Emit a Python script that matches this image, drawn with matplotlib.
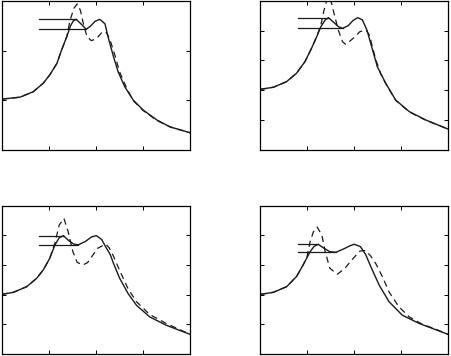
import matplotlib
matplotlib.use("Agg")
import matplotlib.pyplot as plt

# ---------------- data ----------------
# Panel 1 (top-left)
p1_sx = [0.00, 0.39, 0.67, 0.88, 1.02, 1.17, 1.27, 1.38, 1.46, 1.52, 1.58, 1.69, 1.79, 1.88, 1.98, 2.08, 2.19, 2.26, 2.37, 2.47, 2.61, 2.79, 3.00, 3.29, 3.57, 4.00]
p1_sy = [1.02, 1.06, 1.17, 1.34, 1.51, 1.74, 2.01, 2.28, 2.50, 2.60, 2.63, 2.53, 2.43, 2.49, 2.59, 2.63, 2.54, 2.26, 1.88, 1.57, 1.27, 1.00, 0.80, 0.60, 0.46, 0.34]
p1_dx = [0.00, 0.39, 0.67, 0.88, 1.02, 1.17, 1.27, 1.38, 1.45, 1.53, 1.60, 1.67, 1.74, 1.81, 1.90, 2.01, 2.12, 2.21, 2.29, 2.40, 2.50, 2.65, 2.79, 3.00, 3.29, 3.57, 4.00]
p1_dy = [1.02, 1.06, 1.17, 1.34, 1.51, 1.74, 2.01, 2.28, 2.61, 2.85, 2.94, 2.81, 2.51, 2.28, 2.20, 2.24, 2.36, 2.38, 2.24, 1.91, 1.57, 1.24, 0.99, 0.79, 0.59, 0.46, 0.34]
p1_hx = [0.80, 1.58, 1.79]
p1_hy = [2.63, 2.43]

# Panel 2 (top-right)
p2_sx = [0.00, 0.28, 0.56, 0.77, 0.95, 1.09, 1.20, 1.29, 1.38, 1.45, 1.55, 1.66, 1.75, 1.87, 1.97, 2.07, 2.17, 2.27, 2.37, 2.49, 2.67, 2.88, 3.17, 3.52, 4.00]
p2_sy = [2.03, 2.10, 2.29, 2.57, 2.96, 3.41, 3.80, 4.14, 4.36, 4.44, 4.30, 4.14, 4.08, 4.17, 4.34, 4.44, 4.37, 4.02, 3.46, 2.79, 2.23, 1.67, 1.28, 1.00, 0.69]
p2_dx = [0.00, 0.28, 0.56, 0.77, 0.95, 1.09, 1.20, 1.29, 1.35, 1.41, 1.48, 1.55, 1.66, 1.75, 1.82, 1.98, 2.12, 2.25, 2.32, 2.45, 2.56, 2.67, 2.88, 3.17, 3.52, 4.00]
p2_dy = [2.03, 2.10, 2.29, 2.57, 2.96, 3.41, 3.80, 4.20, 4.65, 5.00, 5.15, 4.70, 4.02, 3.63, 3.54, 3.75, 3.97, 4.02, 3.86, 3.07, 2.55, 2.22, 1.66, 1.27, 0.99, 0.69]
p2_hx = [0.80, 1.45, 1.75]
p2_hy = [4.44, 4.08]

# Panel 3 (bottom-left)
p3_sx = [0.00, 0.25, 0.53, 0.74, 0.88, 1.02, 1.13, 1.22, 1.31, 1.41, 1.52, 1.62, 1.77, 1.91, 2.01, 2.12, 2.22, 2.30, 2.37, 2.50, 2.68, 2.86, 3.14, 3.49, 4.00]
p3_sy = [2.01, 2.08, 2.27, 2.55, 2.83, 3.23, 3.68, 3.92, 3.99, 3.84, 3.71, 3.68, 3.79, 3.95, 3.99, 3.86, 3.57, 3.36, 3.06, 2.56, 2.04, 1.64, 1.25, 0.97, 0.66]
p3_dx = [0.00, 0.25, 0.53, 0.74, 0.88, 1.02, 1.13, 1.22, 1.32, 1.41, 1.51, 1.60, 1.72, 1.82, 1.91, 2.03, 2.15, 2.21, 2.28, 2.37, 2.50, 2.68, 2.86, 3.14, 3.49, 4.00]
p3_dy = [2.01, 2.08, 2.27, 2.55, 2.83, 3.23, 3.75, 4.35, 4.57, 4.12, 3.45, 3.09, 3.00, 3.08, 3.28, 3.56, 3.66, 3.70, 3.58, 3.30, 2.82, 2.20, 1.76, 1.33, 1.03, 0.66]
p3_hx = [0.80, 1.31, 1.62]
p3_hy = [3.99, 3.68]

# Panel 4 (bottom-right)
p4_sx = [0.00, 0.28, 0.56, 0.77, 0.91, 1.06, 1.14, 1.23, 1.34, 1.48, 1.61, 1.77, 1.91, 2.00, 2.13, 2.24, 2.35, 2.53, 2.74, 3.02, 3.38, 4.00]
p4_sy = [2.01, 2.08, 2.27, 2.61, 3.00, 3.45, 3.62, 3.70, 3.58, 3.45, 3.43, 3.54, 3.65, 3.70, 3.62, 3.36, 2.95, 2.32, 1.76, 1.31, 1.03, 0.66]
p4_dx = [0.00, 0.28, 0.56, 0.77, 0.91, 0.99, 1.06, 1.13, 1.21, 1.31, 1.38, 1.48, 1.64, 1.80, 1.98, 2.12, 2.24, 2.35, 2.46, 2.60, 2.74, 2.95, 3.17, 3.45, 3.73, 4.00]
p4_dy = [2.01, 2.08, 2.27, 2.61, 3.00, 3.25, 3.79, 4.12, 4.28, 4.01, 3.45, 2.89, 2.69, 2.89, 3.23, 3.47, 3.49, 3.30, 3.04, 2.60, 2.09, 1.59, 1.25, 1.00, 0.84, 0.66]
p4_hx = [0.80, 1.23, 1.61]
p4_hy = [3.70, 3.43]

panels = [
    (p1_sx, p1_sy, p1_dx, p1_dy, p1_hx, p1_hy, 3),
    (p2_sx, p2_sy, p2_dx, p2_dy, p2_hx, p2_hy, 5),
    (p3_sx, p3_sy, p3_dx, p3_dy, p3_hx, p3_hy, 5),
    (p4_sx, p4_sy, p4_dx, p4_dy, p4_hx, p4_hy, 5),
]

W, H = 451, 356
rects = [
    (1.7 / W, 1 - 149.7 / H, 188.6 / W, 148.7 / H),
    (260.3 / W, 1 - 149.7 / H, 188.0 / W, 148.7 / H),
    (1.7 / W, 1 - 354.0 / H, 188.6 / W, 148.3 / H),
    (260.3 / W, 1 - 354.0 / H, 188.0 / W, 148.3 / H),
]

fig = plt.figure(figsize=(W / 100, H / 100), dpi=100)
col = "#1a1a1a"
for (sx, sy, dx, dy, hx, hy, ytop), r in zip(panels, rects):
    ax = fig.add_axes(r)
    ax.plot(dx, dy, color=col, lw=0.9, linestyle=(0, (5, 3.5)))
    ax.plot(sx, sy, color=col, lw=1.0)
    ax.plot([hx[0], hx[1]], [hy[0], hy[0]], color=col, lw=0.9)
    ax.plot([hx[0], hx[2]], [hy[1], hy[1]], color=col, lw=0.9)
    ax.set_xlim(0, 4)
    ax.set_ylim(0, ytop)
    ax.set_xticks([1, 2, 3])
    ax.set_yticks(list(range(1, ytop)))
    ax.tick_params(direction="in", length=3, width=0.7, top=True, right=True,
                   labelbottom=False, labelleft=False)
    for s in ax.spines.values():
        s.set_linewidth(0.9)
        s.set_color("black")

fig.savefig("out.png", dpi=100)
